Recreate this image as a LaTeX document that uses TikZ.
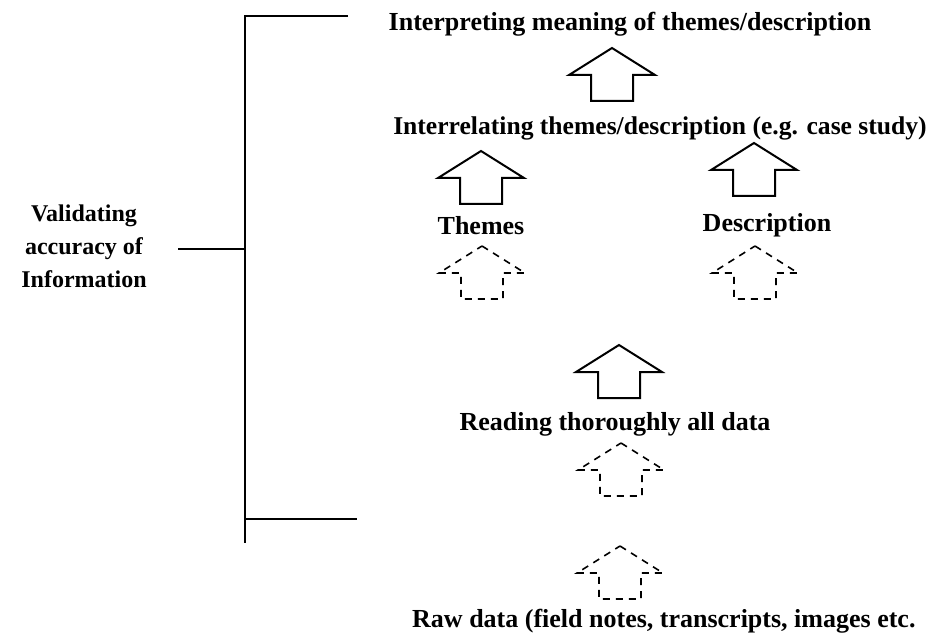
\documentclass[tikz,border=0pt]{standalone}
\usepackage{fontspec}
\setmainfont{Liberation Serif}
\begin{document}
\begin{tikzpicture}[x=1pt,y=-1pt,
  lbl/.style={font=\fontsize{26}{31}\selectfont\bfseries, inner sep=0pt, anchor=base},
  sidelbl/.style={font=\fontsize{24}{33}\selectfont\bfseries, inner sep=0pt, align=center},
  bracket/.style={line width=1.4pt},
  solidarrow/.style={line width=2pt},
  faintarrow/.style={line width=1.6pt, dash pattern=on 7pt off 6pt},
  uparrow/.pic={
    \draw (0,0) -- (43,27) -- (21,27) -- (21,53) -- (-21,53) -- (-21,27) -- (-43,27) -- cycle;
  }
]
\useasboundingbox (0,0) rectangle (936,636);

% stage labels, bottom to top
\node[lbl] (title)  at (630,31)  {Interpreting meaning of themes/description};
\node[lbl, font=\fontsize{25.6}{31}\selectfont\bfseries] (inter) at (660,135) {Interrelating themes/description (e.g. case study)};
\node[lbl] (themes) at (481,235) {Themes};
\node[lbl] (descr)  at (767,232) {Description};
\node[lbl] (read)   at (615,430) {Reading thoroughly all data};
\node[lbl, anchor=base west] (raw) at (412,627) {Raw data (field notes, transcripts, images etc.};

% hollow up-arrows between the stages
\pic[solidarrow] (a1) at (612,48)  {uparrow};
\pic[solidarrow] (a2) at (481,151) {uparrow};
\pic[solidarrow] (a3) at (754,143) {uparrow};
\pic[faintarrow] (a4) at (482,246) {uparrow};
\pic[faintarrow] (a5) at (755,246) {uparrow};
\pic[solidarrow] (a6) at (619,345) {uparrow};
\pic[faintarrow] (a7) at (621,443) {uparrow};
\pic[faintarrow] (a8) at (620,546) {uparrow};

% validation bracket on the left
\node[sidelbl] (valid) at (84,246) {Validating\\accuracy of\\Information};
\coordinate (btop)  at (245,16);
\coordinate (btopr) at (348,16);
\coordinate (bmid)  at (245,249);
\coordinate (bmidl) at (178,249);
\coordinate (bbot)  at (245,519);
\coordinate (bbotr) at (357,519);
\coordinate (bend)  at (245,543);
\draw[bracket] (btopr) -- (btop) -- (bend);
\draw[bracket] (bbot) -- (bbotr);
\draw[bracket] (bmidl) -- (bmid);
\end{tikzpicture}
\end{document}
